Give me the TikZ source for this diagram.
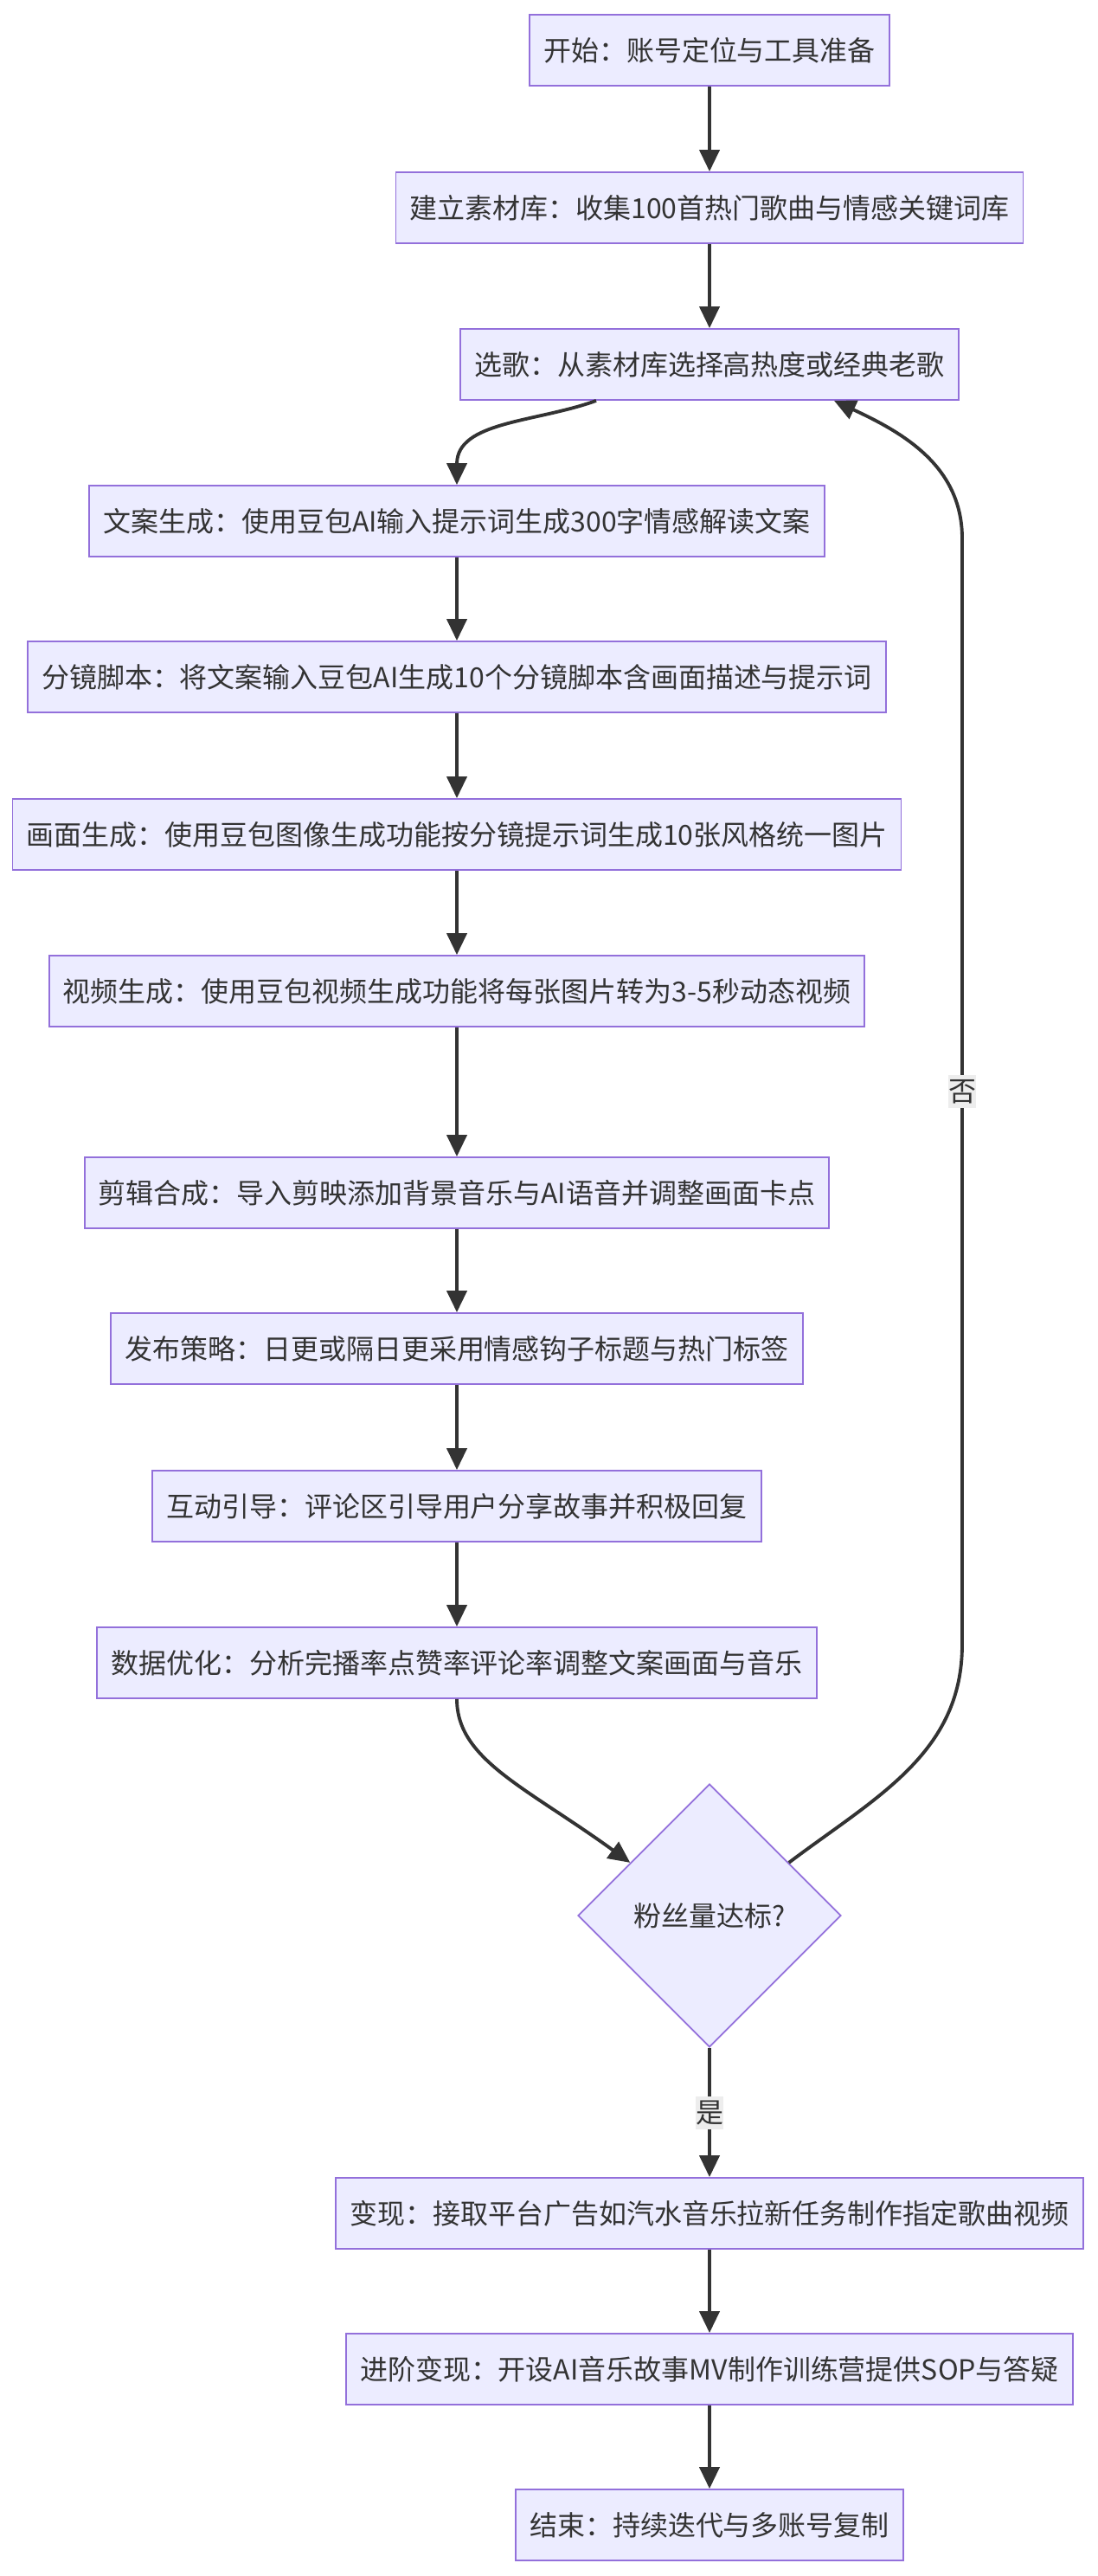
\documentclass[tikz,border=0pt]{standalone}
\usepackage{fontspec}
\setmainfont{Noto Sans CJK SC}
\usepackage{tikz}
\usetikzlibrary{arrows.meta, shapes.geometric, calc}

\definecolor{nodefill}{HTML}{ECECFF}
\definecolor{nodeline}{HTML}{9370DB}
\definecolor{edgeline}{HTML}{333333}
\definecolor{lblbg}{HTML}{E8E8E8}

\begin{document}
\begin{tikzpicture}[
  %% Node styles
  pblock/.style ={draw=nodeline, fill=nodefill, line width=1pt, text=edgeline,
                  minimum height=1.64cm, inner xsep=0.32cm, inner ysep=0pt,
                  font=\fontsize{18.2pt}{22pt}\selectfont},
  qblock/.style ={diamond, aspect=1, draw=nodeline, fill=nodefill, line width=1pt,
                  text=edgeline, minimum size=6.08cm, inner sep=0pt,
                  font=\fontsize{18.2pt}{22pt}\selectfont},
  %% Edge label
  elabel/.style ={fill=lblbg!80, text=edgeline, inner sep=0pt,
                  minimum width=0.62cm, minimum height=0.76cm,
                  font=\fontsize{18.2pt}{22pt}\selectfont},
  %% Arrows
  arr/.style  ={-{Triangle[length=0.5cm, width=0.46cm]}, line width=2.2pt, draw=edgeline}
]
\useasboundingbox (0,0) rectangle (25.36,-59.52);

%% ── TOP: PREPARATION ───────────────────────────────────────────
\node[pblock] (start) at (16.4, -1.16) {开始：账号定位与工具准备};
\node[pblock] (lib)   at (16.4, -4.80) {建立素材库：收集100首热门歌曲与情感关键词库};
\node[pblock] (pick)  at (16.4, -8.42) {选歌：从素材库选择高热度或经典老歌};

\draw[arr] (start) -- (lib);
\draw[arr] (lib)   -- (pick);

%% ── MIDDLE: PRODUCTION ─────────────────────────────────────────
\node[pblock] (copy)  at (10.56, -12.04) {文案生成：使用豆包AI输入提示词生成300字情感解读文案};
\node[pblock] (board) at (10.56, -15.64) {分镜脚本：将文案输入豆包AI生成10个分镜脚本含画面描述与提示词};
\node[pblock] (img)   at (10.56, -19.28) {画面生成：使用豆包图像生成功能按分镜提示词生成10张风格统一图片};
\node[pblock] (vid)   at (10.56, -22.90) {视频生成：使用豆包视频生成功能将每张图片转为3-5秒动态视频};
\node[pblock] (edit)  at (10.56, -27.56) {剪辑合成：导入剪映添加背景音乐与AI语音并调整画面卡点};
\node[pblock] (pub)   at (10.56, -31.16) {发布策略：日更或隔日更采用情感钩子标题与热门标签};
\node[pblock] (talk)  at (10.56, -34.80) {互动引导：评论区引导用户分享故事并积极回复};
\node[pblock] (data)  at (10.56, -38.42) {数据优化：分析完播率点赞率评论率调整文案画面与音乐};

%% pick -> copy  (curved drop into left column)
\draw[arr] ([xshift=-2.62cm]pick.south) to[out=200, in=90] (copy.north);
\draw[arr] (copy)  -- (board);
\draw[arr] (board) -- (img);
\draw[arr] (img)   -- (vid);
\draw[arr] (vid)   -- (edit);
\draw[arr] (edit)  -- (pub);
\draw[arr] (pub)   -- (talk);
\draw[arr] (talk)  -- (data);

%% ── DECISION ───────────────────────────────────────────────────
\node[qblock] (fans) at (16.4, -44.26) {粉丝量达标?};

\coordinate (fansIn) at ($(fans.west)!0.4!(fans.north)$);
\draw[arr] (data.south) .. controls ([yshift=-1.4cm]data.south)
    and ($(fansIn)+(-2.4,1.74)$) .. (fansIn);

%% feedback: fans -> pick  (up along the right side)
\coordinate (fbLow)  at (22.24, -38.0);
\coordinate (fbHigh) at (22.24, -12.44);
\draw[arr] ($(fans.east)!0.4!(fans.north)$) to[out=37, in=-90] (fbLow)
    -- (fbHigh) node[midway, elabel] {否}
    to[out=90, in=-25] ([xshift=2.88cm]pick.south);

%% ── BOTTOM: MONETISATION ───────────────────────────────────────
\node[pblock] (cash)  at (16.4, -51.14) {变现：接取平台广告如汽水音乐拉新任务制作指定歌曲视频};
\node[pblock] (camp)  at (16.4, -54.74) {进阶变现：开设AI音乐故事MV制作训练营提供SOP与答疑};
\node[pblock] (stop)  at (16.4, -58.34) {结束：持续迭代与多账号复制};

\draw[arr] (fans.south) -- (cash.north) node[midway, elabel] {是};
\draw[arr] (cash) -- (camp);
\draw[arr] (camp) -- (stop);

\end{tikzpicture}
\end{document}
